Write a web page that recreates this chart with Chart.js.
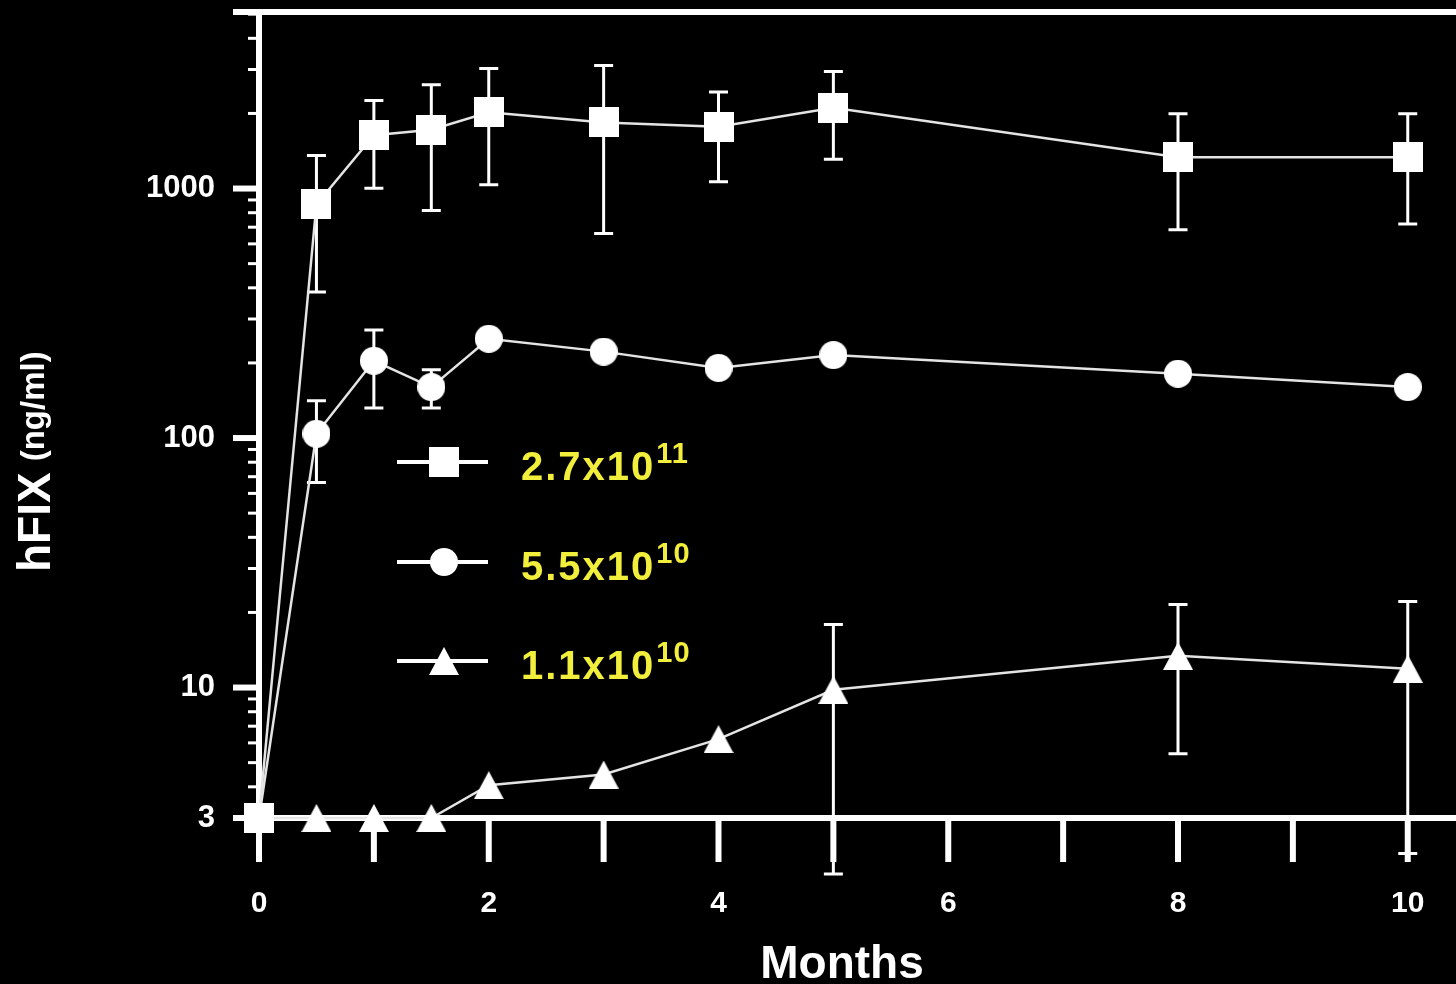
<!DOCTYPE html>
<html>
<head>
<meta charset="utf-8">
<script src="https://cdn.jsdelivr.net/npm/chart.js@4.4.1/dist/chart.umd.min.js"></script>
<style>
html,body{margin:0;padding:0;background:#000;overflow:hidden;}
#wrap{width:1456px;height:984px;position:relative;}
</style>
</head>
<body>
<div id="wrap"><canvas id="c"></canvas></div>
<script>
// ---------------- data ----------------
const months = [0, 0.5, 1, 1.5, 2, 3, 4, 5, 8, 10];

const doseLabels = ['2.7x10', '5.5x10', '1.1x10'];
const doseExponents = ['11', '10', '10'];

const highDose      = [3, 864, 1636, 1722, 2023, 1841, 1770, 2109, 1334, 1334];
const highDoseErrHi = [null, 1357, 2254, 2607, 3025, 3110, 2438, 2944, 1995, 1995];
const highDoseErrLo = [null, 385, 1003, 816, 1035, 661, 1064, 1311, 683, 721];

const midDose      = [3, 104, 204, 160, 250, 222, 191, 215, 181, 160];
const midDoseErrHi = [null, 141, 271, 188, null, null, null, null, null, null];
const midDoseErrLo = [null, 66.4, 132, 132, null, null, null, null, null, null];

const lowDose      = [3, 3, 3, 3, 4.06, 4.48, 6.21, 9.79, 13.4, 11.9];
const lowDoseErrHi = [null, null, null, null, null, null, null, 17.9, 21.5, 22.1];
const lowDoseErrLo = [null, null, null, null, null, null, null, 1.79, 5.43, 2.16];

const yTickValues = [3,4,5,6,7,8,9,10,20,30,40,50,60,70,80,90,100,200,300,400,500,600,700,800,900,1000,2000,3000,4000,5000];
const yLabeledTicks = [3, 10, 100, 1000];
const xLabeledTicks = [0, 2, 4, 6, 8, 10];
const xTickValues = [0,1,2,3,4,5,6,7,8,9,10];

const xTitle = 'Months';
const yTitleMain = 'hFIX';
const yTitleUnit = '(ng/ml)';

// ---------------- markers ----------------
function makeMarker(kind) {
  const c = document.createElement('canvas');
  const g = c.getContext('2d');
  if (kind === 'square') {
    c.width = 30; c.height = 30;
    g.fillStyle = '#ffffff';
    g.fillRect(0, 0, 30, 30);
  } else if (kind === 'circle') {
    c.width = 28; c.height = 28;
    g.fillStyle = '#ffffff';
    g.beginPath(); g.arc(14, 14, 14, 0, Math.PI * 2); g.fill();
  } else {
    c.width = 30; c.height = 28;
    g.fillStyle = '#ffffff';
    g.beginPath(); g.moveTo(15, 0); g.lineTo(30, 28); g.lineTo(0, 28); g.closePath(); g.fill();
  }
  return c;
}
const markers = [makeMarker('square'), makeMarker('circle'), makeMarker('triangle')];

const FONT = "'Liberation Sans', Arial, Helvetica, sans-serif";
Chart.defaults.font.family = FONT;
Chart.defaults.color = '#ffffff';

function pts(ys) { return months.map((m, i) => ({x: m, y: ys[i]})); }

const seriesErr = [
  [highDoseErrLo, highDoseErrHi],
  [midDoseErrLo, midDoseErrHi],
  [lowDoseErrLo, lowDoseErrHi]
];

function zeroPadding(s) {
  s.paddingTop = 0; s.paddingBottom = 0; s.paddingLeft = 0; s.paddingRight = 0;
}

const axesPlugin = {
  id: 'axesAndErrors',
  beforeDatasetsDraw(chart) {
    const ctx = chart.ctx;
    const xs = chart.scales.x, ys = chart.scales.y;
    const a = chart.chartArea;
    const yTickLen = ys.options.grid.tickLength;
    const xTickLen = xs.options.grid.tickLength;
    ctx.save();
    ctx.strokeStyle = '#ffffff';
    ctx.lineCap = 'butt';
    // frame lines
    ctx.lineWidth = 6;
    ctx.beginPath();
    ctx.moveTo(a.left - yTickLen, a.top); ctx.lineTo(a.right, a.top);
    ctx.moveTo(a.left - yTickLen, a.bottom); ctx.lineTo(a.right, a.bottom);
    ctx.moveTo(a.left, a.top - 3); ctx.lineTo(a.left, a.bottom);
    ctx.stroke();
    // y ticks
    yTickValues.forEach(v => {
      const py = ys.getPixelForValue(v);
      const major = yLabeledTicks.includes(v);
      ctx.lineWidth = major ? 6 : 3;
      ctx.beginPath();
      ctx.moveTo(a.left - (major ? yTickLen : 11), py);
      ctx.lineTo(a.left, py);
      ctx.stroke();
    });
    // x ticks
    ctx.lineWidth = 6;
    xTickValues.forEach(v => {
      const px = xs.getPixelForValue(v);
      ctx.beginPath();
      ctx.moveTo(px, a.bottom);
      ctx.lineTo(px, a.bottom + xTickLen);
      ctx.stroke();
    });
    // error bars
    ctx.lineWidth = 3;
    seriesErr.forEach(([lo, hi]) => {
      months.forEach((m, i) => {
        if (hi[i] == null && lo[i] == null) return;
        const px = xs.getPixelForValue(m);
        const pHi = ys.getPixelForValue(hi[i]);
        const pLo = ys.getPixelForValue(lo[i]);
        ctx.beginPath();
        ctx.moveTo(px, pHi); ctx.lineTo(px, pLo);
        ctx.moveTo(px - 9.5, pHi); ctx.lineTo(px + 9.5, pHi);
        ctx.moveTo(px - 9.5, pLo); ctx.lineTo(px + 9.5, pLo);
        ctx.stroke();
      });
    });
    ctx.restore();
  },
  afterDraw(chart) {
    const ctx = chart.ctx;
    ctx.save();
    // legend
    const rows = [462, 562, 661];
    rows.forEach((ry, i) => {
      ctx.strokeStyle = '#ffffff';
      ctx.lineWidth = 4;
      ctx.beginPath(); ctx.moveTo(397, ry); ctx.lineTo(488, ry); ctx.stroke();
      const mk = markers[i];
      ctx.drawImage(mk, 444 - mk.width / 2, ry - mk.height / 2);
      ctx.fillStyle = '#f2ee3c';
      ctx.textAlign = 'left';
      ctx.textBaseline = 'alphabetic';
      ctx.font = 'bold 40px ' + FONT;
      ctx.letterSpacing = '2px';
      ctx.fillText(doseLabels[i], 521, ry + 18);
      const w = ctx.measureText(doseLabels[i]).width;
      ctx.font = 'bold 29px ' + FONT;
      ctx.letterSpacing = '1px';
      ctx.fillText(doseExponents[i], 521 + w + 1, ry + 1);
      ctx.letterSpacing = '0px';
    });
    // x title
    ctx.fillStyle = '#ffffff';
    ctx.font = 'bold 46px ' + FONT;
    ctx.textAlign = 'center';
    ctx.textBaseline = 'alphabetic';
    ctx.fillText(xTitle, 842, 978);
    // y title
    ctx.translate(50, 572);
    ctx.rotate(-Math.PI / 2);
    ctx.textAlign = 'left';
    ctx.font = 'bold 46px ' + FONT;
    ctx.fillText(yTitleMain, 0, 0);
    const w1 = ctx.measureText(yTitleMain).width;
    ctx.font = 'bold 33px ' + FONT;
    ctx.fillText(yTitleUnit, w1 + 11, -6);
    ctx.restore();
  }
};

const commonDs = {
  borderColor: '#e4e4e4',
  borderWidth: 2.5,
  tension: 0,
  pointRadius: 14,
  pointHoverRadius: 14,
  clip: false,
  fill: false
};

new Chart(document.getElementById('c'), {
  type: 'line',
  data: {
    datasets: [
      Object.assign({label: doseLabels[0] + doseExponents[0], data: pts(highDose), pointStyle: markers[0]}, commonDs),
      Object.assign({label: doseLabels[1] + doseExponents[1], data: pts(midDose), pointStyle: markers[1]}, commonDs),
      Object.assign({label: doseLabels[2] + doseExponents[2], data: pts(lowDose), pointStyle: markers[2]}, commonDs)
    ]
  },
  options: {
    responsive: true,
    maintainAspectRatio: false,
    animation: false,
    layout: {autoPadding: false, padding: {top: 12, left: 0, right: 0, bottom: 0}},
    plugins: {legend: {display: false}, tooltip: {enabled: false}},
    scales: {
      x: {
        type: 'linear',
        bounds: 'data',
        min: 0,
        max: 10.42,
        afterFit(s) { s.height = 984 - 818; zeroPadding(s); },
        afterBuildTicks(s) { s.ticks = xTickValues.map(v => ({value: v})); },
        grid: {display: true, drawOnChartArea: false, drawTicks: true, tickLength: 44, color: 'rgba(0,0,0,0)'},
        border: {display: false},
        ticks: {
          autoSkip: false,
          includeBounds: false,
          maxRotation: 0,
          padding: 24,
          color: '#ffffff',
          font: {size: 30, weight: 'bold'},
          callback: v => xLabeledTicks.includes(v) ? String(v) : ''
        }
      },
      y: {
        type: 'logarithmic',
        bounds: 'data',
        min: 3,
        max: 5100,
        afterFit(s) { s.width = 259; zeroPadding(s); },
        afterBuildTicks(s) { s.ticks = yTickValues.map(v => ({value: v})); },
        grid: {display: true, drawOnChartArea: false, drawTicks: true, tickLength: 26, color: 'rgba(0,0,0,0)'},
        border: {display: false},
        ticks: {
          autoSkip: false,
          padding: 18,
          color: '#ffffff',
          font: {size: 31, weight: 'bold'},
          callback: v => yLabeledTicks.includes(v) ? String(v) : ''
        }
      }
    }
  },
  plugins: [axesPlugin]
});
</script>
</body>
</html>
